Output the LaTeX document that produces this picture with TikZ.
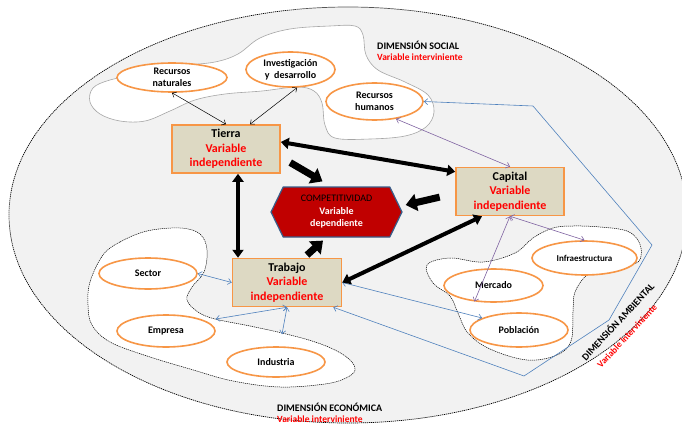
\documentclass[tikz,border=0pt]{standalone}
\usepackage{fontspec}
\setmainfont{Carlito}
\usetikzlibrary{arrows.meta,shapes.geometric,shapes.symbols}
\definecolor{borange}{HTML}{F79646}
\definecolor{boxtan}{HTML}{DDD9C3}
\definecolor{hexred}{HTML}{C00000}
\definecolor{hexborder}{HTML}{385D8A}
\definecolor{lblue}{HTML}{4F81BD}
\definecolor{lpurple}{HTML}{8064A2}
\definecolor{bggray}{HTML}{F2F2F2}
\definecolor{cloudgray}{HTML}{A6A6A6}
\definecolor{vred}{HTML}{FF0000}
\begin{document}
\begin{tikzpicture}[x=1pt,y=-1pt,
  varbox/.style={draw=borange, line width=1.5pt, fill=boxtan, align=center,
    minimum width=108pt, minimum height=48pt, inner sep=0pt,
    font=\fontsize{12}{14.5}\selectfont\bfseries},
  oval/.style={ellipse, draw=borange, line width=1.6pt, fill=white, align=center,
    inner sep=0pt, font=\fontsize{10}{12}\selectfont\bfseries},
  barbs/.style={{Straight Barb[length=3.5pt,width=6pt]}-{Straight Barb[length=3.5pt,width=6pt]}},
  blackthin/.style={barbs, line width=0.5pt, draw=black},
  bluethin/.style={barbs, line width=0.6pt, draw=lblue},
  purplethin/.style={barbs, line width=0.6pt, draw=lpurple},
  bigarrow/.style={line width=7pt, -{Triangle[length=11pt 0 0,width=17pt 0 0]}},
  medarrow/.style={line width=4pt, {Triangle[length=8pt 0 0,width=11pt 0 0]}-{Triangle[length=8pt 0 0,width=11pt 0 0]}},
  cloudeco/.style={draw=black, dashed, dash pattern=on 1.2pt off 0.8pt, line width=0.5pt, fill=white},
  cloudsoc/.style={draw=cloudgray, line width=0.6pt, fill=white},
  dimtitle/.style={anchor=west, inner sep=0pt, font=\fontsize{10}{12}\selectfont\bfseries},
  dimvar/.style={anchor=west, inner sep=0pt, text=vred, font=\fontsize{9.5}{11}\selectfont\bfseries}
]
\useasboundingbox (0,0) rectangle (682,428);
\clip (0,0) rectangle (682,428);
\fill[white] (0,0) rectangle (682,428);
% outer ellipse
\draw[fill=bggray, draw=black, dashed, dash pattern=on 1.2pt off 0.8pt, line width=0.7pt] (348,215) ellipse [x radius=339, y radius=208];
% social cloud
\path[cloudsoc] plot[smooth cycle, tension=0.6] coordinates {(90,102) (93,88) (110,80) (140,74) (180,66) (215,62) (238,54) (260,38) (290,29) (330,26) (355,26) (363,35) (366,55) (378,70) (405,82) (428,95) (434,112) (426,127) (405,136) (370,139) (335,138) (325,125) (322,103) (314,91) (297,87) (262,91) (225,94) (195,100) (170,111) (145,121) (120,121) (100,114)};
% economic cloud
\path[cloudeco] plot[smooth cycle, tension=0.6] coordinates {(103,255) (120,242) (147,231) (180,228) (200,234) (207,250) (204,272) (192,287) (187,300) (198,312) (215,319) (250,326) (282,333) (312,341) (335,350) (350,360) (355,370) (346,378) (325,384) (280,387) (233,381) (190,369) (147,356) (110,342) (92,325) (88,305) (90,282)};
% capital cloud
\path[cloudeco] plot[smooth cycle, tension=0.6] coordinates {(427,265) (450,258) (483,262) (515,253) (533,238) (553,228) (573,226) (600,227) (627,231) (639,242) (641,256) (634,264) (607,267) (588,274) (575,292) (573,312) (571,341) (557,355) (527,360) (490,349) (468,333) (458,313) (450,296) (433,283)};
% dimension labels
\node[dimtitle] (soct) at (377,45) {DIMENSIÓN SOCIAL};
\node[dimvar] (socv) at (377,57) {Variable interviniente};
\node[dimtitle] (ecot) at (277,407) {DIMENSIÓN ECONÓMICA};
\node[dimvar] (ecov) at (277,419) {Variable interviniente};
\node[inner sep=0pt, rotate=47, font=\fontsize{10}{12}\selectfont\bfseries] (ambt) at (617.5,321.5) {DIMENSIÓN AMBIENTAL};
\node[inner sep=0pt, rotate=47, text=vred, font=\fontsize{9.2}{11}\selectfont\bfseries] (ambv) at (627,336) {Variable interviniente};
% main boxes
\node[varbox] (tierra) at (226,149) {Tierra\\\textcolor{vred}{Variable}\\\textcolor{vred}{independiente}};
\node[varbox] (capital) at (510,191.5) {Capital\\\textcolor{vred}{Variable}\\\textcolor{vred}{independiente}};
\node[varbox, minimum width=109pt] (trabajo) at (287,282.5) {Trabajo\\\textcolor{vred}{Variable}\\\textcolor{vred}{independiente}};
\node[signal, signal to=east and west, signal pointer angle=128, fill=hexred, draw=hexborder, line width=1.2pt,
  minimum width=131pt, minimum height=50pt, inner sep=0pt, align=center,
  font=\fontsize{10}{12.5}\selectfont] (comp) at (336.5,212)
  {COMPETITIVIDAD\\\textcolor{white}{\bfseries Variable}\\\textcolor{white}{\bfseries dependiente}};
% ellipses
\node[oval, minimum width=110pt, minimum height=29pt] (rn) at (172,77.5) {Recursos\\naturales};
\node[oval, minimum width=89pt, minimum height=35pt] (id) at (290.5,69.5) {Investigación\\y~~desarrollo};
\node[oval, minimum width=97pt, minimum height=37pt] (rh) at (374.5,101.5) {Recursos\\humanos};
\node[oval, minimum width=98pt, minimum height=31pt] (sector) at (148,273.5) {Sector};
\node[oval, minimum width=98pt, minimum height=32pt] (empresa) at (166,331) {Empresa};
\node[oval, minimum width=98pt, minimum height=30pt] (industria) at (276,362) {Industria};
\node[oval, minimum width=105pt, minimum height=34pt, font=\fontsize{9}{11}\selectfont\bfseries] (infra) at (584.5,258) {Infraestructura};
\node[oval, minimum width=99pt, minimum height=33pt] (mercado) at (493.5,285.5) {Mercado};
\node[oval, minimum width=98pt, minimum height=34pt] (poblacion) at (519,330) {Población};
% thin connectors
\draw[blackthin] (rn.south) -- (tierra.north);
\draw[blackthin] (id.-70) -- ([xshift=24pt]tierra.north);
\draw[purplethin] (rh.-39) -- (capital.north);
\draw[purplethin] (capital.south) -- (infra.north);
\draw[purplethin] (capital.south) -- (mercado.220);
\draw[bluethin] (sector.east) -- (trabajo.west);
\draw[bluethin] (trabajo.south) -- ([yshift=12pt]empresa.east);
\draw[bluethin] (trabajo.south) -- ([xshift=6pt,yshift=12pt]industria.north);
\draw[bluethin] (trabajo.east) -- (poblacion.162);
\coordinate (b1) at (533,106);
\coordinate (b2) at (652,245);
\coordinate (b3) at (609,320);
\coordinate (b4) at (524,376);
\draw[bluethin] (rh.east) -- (b1) -- (b2) -- (b3) -- (b4) -- ([xshift=-9pt]trabajo.south east);
% thick connectors
\draw[medarrow] ([yshift=7pt]tierra.east) -- ([yshift=-5pt]capital.north west);
\draw[medarrow] ([xshift=12pt]tierra.south) -- ([xshift=-49pt]trabajo.north);
\draw[medarrow] ([xshift=-28pt]capital.south) -- (trabajo.east);
\draw[bigarrow, shorten <=11pt] ([yshift=-8pt]tierra.east) -- ([xshift=-14pt,yshift=5pt]comp.north);
\draw[bigarrow, shorten <=16pt] ([yshift=-2pt]capital.west) -- ([xshift=3pt,yshift=7pt]comp.east);
\draw[bigarrow, shorten <=4pt] ([xshift=17pt]trabajo.north) -- ([xshift=-13.5pt,yshift=-3pt]comp.south);
\end{tikzpicture}
\end{document}
